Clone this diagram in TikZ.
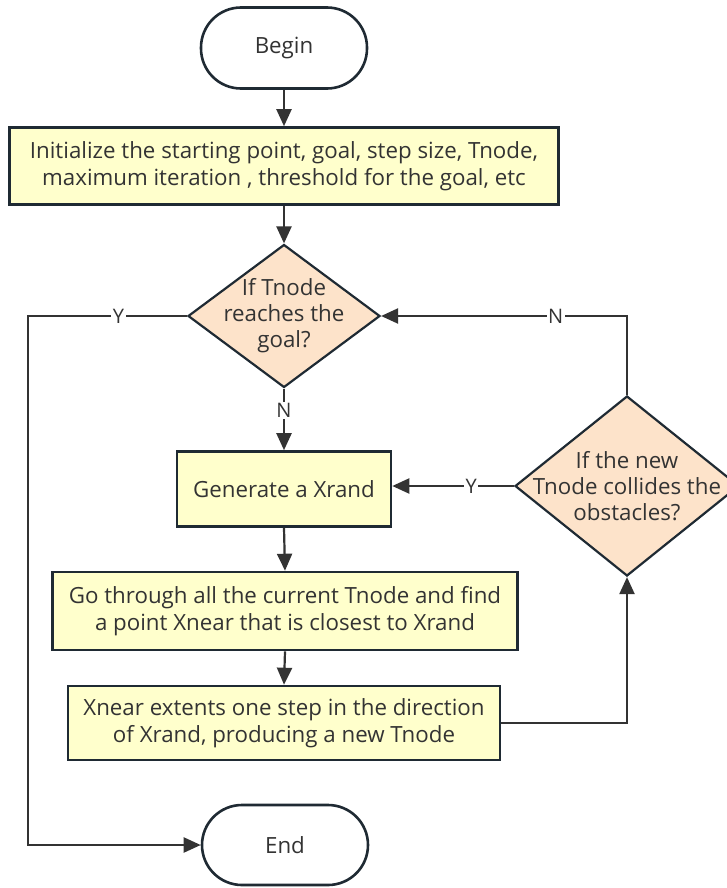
\documentclass[tikz,border=0pt]{standalone}
\usepackage{fontspec}
\setmainfont{Open Sans}
\usetikzlibrary{shapes.geometric,arrows.meta}
\definecolor{boxfill}{HTML}{FFFFCC}
\definecolor{decfill}{HTML}{FDE3CA}
\definecolor{edge}{HTML}{1F2A33}
\definecolor{txt}{HTML}{333333}
\definecolor{wire}{HTML}{333333}
\begin{document}
\begin{tikzpicture}[x=1pt,y=-1pt,
  font=\fontsize{22.3}{27}\selectfont, text=txt,
  term/.style={draw=edge, line width=2.6pt, fill=white, rounded corners=40pt,
    minimum width=166pt, minimum height=81pt, inner sep=0pt},
  proc/.style={draw=edge, line width=2.6pt, fill=boxfill, align=center, inner sep=0pt},
  dec/.style={draw=edge, line width=2.2pt, fill=decfill, diamond, inner sep=0pt},
  dectext/.style={align=center, text=txt, font=\fontsize{22.3}{26}\selectfont},
  arr/.style={draw=wire, line width=2.2pt, -{Triangle[length=17pt,width=15pt]}},
  lab/.style={fill=white, inner sep=1.5pt, font=\fontsize{20}{22}\selectfont, text=txt}]
\useasboundingbox (0,0) rectangle (727,888);

\node[term] (begin) at (284,48) {Begin};
\node[proc, minimum width=549pt, minimum height=77pt] (init) at (284,166)
  {Initialize the starting point, goal, step size, Tnode,\\maximum iteration , threshold for the goal, etc};
\node[dec, minimum width=192pt, minimum height=143pt,
  label={[dectext]center:If Tnode\\reaches the\\goal?}] (d1) at (284,316) {};
\node[proc, minimum width=214pt, minimum height=75pt] (gen) at (284,489) {Generate a Xrand};
\node[dec, minimum width=224pt, minimum height=180pt,
  label={[dectext]center:If the new\\Tnode collides the\\obstacles?}] (d2) at (627,486) {};
\node[proc, minimum width=465pt, minimum height=78pt] (near) at (285,611)
  {Go through all the current Tnode and find\\a point Xnear that is closest to Xrand};
\node[proc, minimum width=432pt, minimum height=74pt] (ext) at (284,723)
  {Xnear extents one step in the direction\\of Xrand, producing a new Tnode};
\node[term, minimum height=80pt] (end) at (285,845) {End};

\coordinate (ya) at (28,316);
\coordinate (nb) at (627,316);

\draw[arr] (begin.south) -- (init.north);
\draw[arr] (init.south) -- (d1.north);
\draw[arr] (d1.south) -- node[lab, pos=0.35]{N} (gen.north);
\draw[arr] (gen.south) -- (near.north);
\draw[arr] (near.south) -- (ext.north);
\draw[arr] (d1.west) -- node[lab, pos=0.43]{Y} (ya) |- (end.west);
\draw[arr] (d2.west) -- node[lab, pos=0.35]{Y} (gen.east |- d2.west);
\draw[arr] (d2.north) -- (nb) -- node[lab, pos=0.29]{N} (d1.east);
\draw[arr] (ext.east) -| (d2.south);
\end{tikzpicture}
\end{document}
